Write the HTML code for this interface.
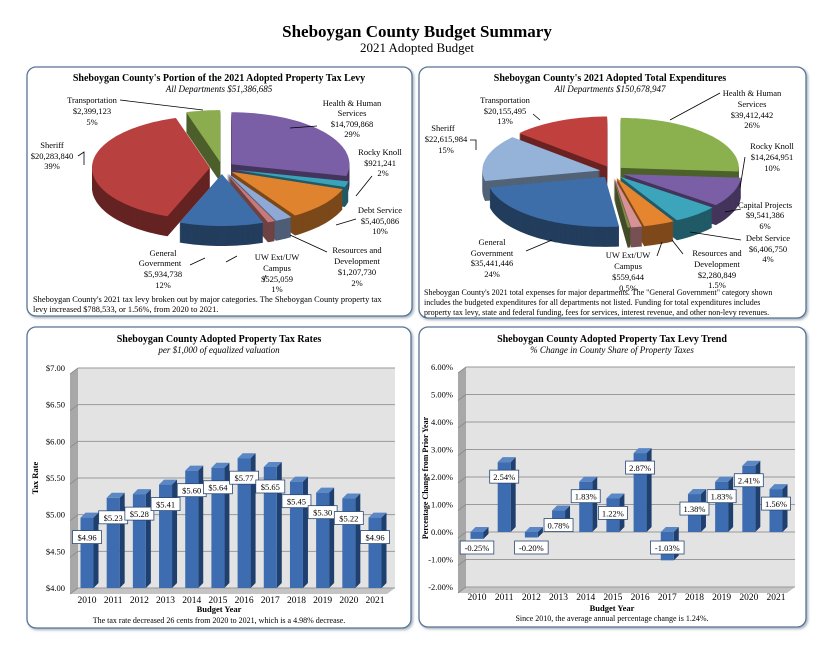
<!DOCTYPE html>
<html><head><meta charset="utf-8">
<style>
body{margin:0;background:#fff;width:835px;height:649px;overflow:hidden;font-family:"Liberation Serif",serif;}
svg{display:block}
</style></head>
<body>
<svg id="root" width="835" height="649" viewBox="0 0 835 649" xmlns="http://www.w3.org/2000/svg" font-family="Liberation Serif, serif">
<defs>
<filter id="sh" x="-5%" y="-5%" width="110%" height="110%"><feDropShadow dx="1.5" dy="1.5" stdDeviation="1.2" flood-color="#6b7f96" flood-opacity="0.6"/></filter>
</defs>
<text x="417" y="37" text-anchor="middle" font-size="17" font-weight="bold">Sheboygan County Budget Summary</text>
<text x="417" y="52" text-anchor="middle" font-size="13">2021 Adopted Budget</text>

<rect x="27" y="67" width="385" height="249" rx="9" fill="#fff" stroke="#5a7592" stroke-width="1.3" filter="url(#sh)"/>
<rect x="419" y="67" width="387" height="251" rx="9" fill="#fff" stroke="#5a7592" stroke-width="1.3" filter="url(#sh)"/>
<rect x="27" y="327" width="384" height="301" rx="9" fill="#fff" stroke="#5a7592" stroke-width="1.3" filter="url(#sh)"/>
<rect x="419" y="327" width="387" height="300" rx="9" fill="#fff" stroke="#5a7592" stroke-width="1.3" filter="url(#sh)"/>

<g font-size="9.5">
<text x="219" y="81" text-anchor="middle" font-weight="bold" font-size="10">Sheboygan County's Portion of the 2021 Adopted Property Tax Levy</text>
<text x="219" y="92" text-anchor="middle" font-style="italic" font-size="9">All Departments $51,386,685</text>
<text x="610" y="81" text-anchor="middle" font-weight="bold" font-size="10">Sheboygan County's 2021 Adopted Total Expenditures</text>
<text x="610" y="92" text-anchor="middle" font-style="italic" font-size="9">All Departments $150,678,947</text>
<text x="219" y="342" text-anchor="middle" font-weight="bold" font-size="10">Sheboygan County Adopted Property Tax Rates</text>
<text x="219" y="353" text-anchor="middle" font-style="italic" font-size="9">per $1,000 of equalized valuation</text>
<text x="612" y="342" text-anchor="middle" font-weight="bold" font-size="10">Sheboygan County Adopted Property Tax Levy Trend</text>
<text x="612" y="353" text-anchor="middle" font-style="italic" font-size="9">% Change in County Share of Property Taxes</text>
</g>

<g id="pie1"></g><g id="pie2"></g><g id="bar1"></g><g id="bar2"></g>

<g font-size="8.5">
<text x="92" y="103" text-anchor="middle">Transportation</text><text x="92" y="114" text-anchor="middle">$2,399,123</text><text x="92" y="125" text-anchor="middle">5%</text>
<text x="52" y="148" text-anchor="middle">Sheriff</text><text x="52" y="159" text-anchor="middle">$20,283,840</text><text x="52" y="169" text-anchor="middle">39%</text>
<text x="352" y="106" text-anchor="middle">Health &amp; Human</text><text x="352" y="116" text-anchor="middle">Services</text><text x="352" y="127" text-anchor="middle">$14,709,868</text><text x="352" y="137" text-anchor="middle">29%</text>
<text x="380" y="155" text-anchor="middle">Rocky Knoll</text><text x="380" y="166" text-anchor="middle">$921,241</text><text x="383" y="176" text-anchor="middle">2%</text>
<text x="380" y="213" text-anchor="middle">Debt Service</text><text x="380" y="224" text-anchor="middle">$5,405,086</text><text x="380" y="234" text-anchor="middle">10%</text>
<text x="357" y="253" text-anchor="middle">Resources and</text><text x="357" y="264" text-anchor="middle">Development</text><text x="357" y="275" text-anchor="middle">$1,207,730</text><text x="357" y="286" text-anchor="middle">2%</text>
<text x="277" y="260" text-anchor="middle">UW Ext/UW</text><text x="277" y="271" text-anchor="middle">Campus</text><text x="277" y="282" text-anchor="middle">$525,059</text><text x="277" y="292" text-anchor="middle">1%</text>
<text x="163" y="256" text-anchor="middle">General</text><text x="160" y="266" text-anchor="middle">Government</text><text x="163" y="277" text-anchor="middle">$5,934,738</text><text x="163" y="288" text-anchor="middle">12%</text>
<path d="M120 100 L203 110 M78 156 L84 152 L84 165 M317 126 L290 128 M372 176 L356 196 M356 219 L336 225 M327 252 L290 235 M226 262 L237 256 M264 280 L266 275 M190 265 L205 258" stroke="#000" stroke-width="0.8" fill="none"/>
</g>
<g font-size="8.4"><text x="33" y="302">Sheboygan County's 2021  tax levy broken out by major categories.  The Sheboygan County property tax</text><text x="33" y="312">levy increased $788,533, or 1.56%, from 2020 to 2021.</text></g>

<g font-size="8.5">
<text x="505" y="103" text-anchor="middle">Transportation</text><text x="505" y="114" text-anchor="middle">$20,155,495</text><text x="505" y="124" text-anchor="middle">13%</text>
<text x="443" y="131" text-anchor="middle">Sheriff</text><text x="446" y="142" text-anchor="middle">$22,615,984</text><text x="446" y="153" text-anchor="middle">15%</text>
<text x="752" y="96" text-anchor="middle">Health &amp; Human</text><text x="752" y="107" text-anchor="middle">Services</text><text x="752" y="118" text-anchor="middle">$39,412,442</text><text x="752" y="128" text-anchor="middle">26%</text>
<text x="772" y="149" text-anchor="middle">Rocky Knoll</text><text x="772" y="160" text-anchor="middle">$14,264,951</text><text x="772" y="171" text-anchor="middle">10%</text>
<text x="765" y="208" text-anchor="middle">Capital Projects</text><text x="765" y="218" text-anchor="middle">$9,541,386</text><text x="765" y="229" text-anchor="middle">6%</text>
<text x="768" y="241" text-anchor="middle">Debt Service</text><text x="768" y="252" text-anchor="middle">$6,406,750</text><text x="768" y="262" text-anchor="middle">4%</text>
<text x="717" y="256" text-anchor="middle">Resources and</text><text x="717" y="267" text-anchor="middle">Development</text><text x="717" y="278" text-anchor="middle">$2,280,849</text><text x="717" y="288" text-anchor="middle">1.5%</text>
<text x="628" y="258" text-anchor="middle">UW Ext/UW</text><text x="628" y="269" text-anchor="middle">Campus</text><text x="628" y="280" text-anchor="middle">$559,644</text><text x="628" y="291" text-anchor="middle">0.5%</text>
<text x="492" y="245" text-anchor="middle">General</text><text x="492" y="256" text-anchor="middle">Government</text><text x="492" y="266" text-anchor="middle">$35,441,446</text><text x="492" y="277" text-anchor="middle">24%</text>
<path d="M533 114 L540 120 M470 140 L476 140 L476 150 M720 93 L670 120 M745 157 L740 188 M741 209 L725 212 M741 240 L690 232 M683 254 L672 240 M657 256 L662 242 M526 251 L552 240" stroke="#000" stroke-width="0.8" fill="none"/>
</g>
<g font-size="8"><text x="424" y="295">Sheboygan County's 2021 total expenses for major departments.  The "General Government" category shown</text><text x="424" y="305">includes the budgeted expenditures for all departments not listed.  Funding for total expenditures includes</text><text x="424" y="315">property tax levy, state and federal funding, fees for services, interest revenue, and other non-levy revenues.</text></g>

<text x="219" y="623" text-anchor="middle" font-size="8">The tax rate decreased 26 cents from 2020 to 2021, which is a 4.98% decrease.</text>
<text x="612" y="621" text-anchor="middle" font-size="8">Since 2010, the average annual percentage change is 1.24%.</text>
</svg>
<script>
const NS='http://www.w3.org/2000/svg';
function mk(p,tag,attrs){const e=document.createElementNS(NS,tag);for(const k in attrs)e.setAttribute(k,attrs[k]);p.appendChild(e);return e;}

// Pie data
const levyNames=['Health & Human Services','Rocky Knoll','Debt Service','Resources and Development','UW Ext/UW Campus','General Government','Sheriff','Transportation'];
const levyValues=[14709868,921241,5405086,1207730,525059,5934738,20283840,2399123];
const levyColors=['#7a5fa6','#3aa3b9','#e0832f','#8fa9d6','#c9797a','#3e6ea9','#b8403e','#8bac4f'];
const expNames=['Health & Human Services','Rocky Knoll','Capital Projects','Debt Service','Resources and Development','UW Ext/UW Campus','General Government','Sheriff','Transportation'];
const expValues=[39412442,14264951,9541386,6406750,2280849,559644,35441446,22615984,20155495];
const expColors=['#8bb14f','#7b5fa6','#3ca4bb','#e5852f','#d79295','#7a8c46','#3e6ea9','#95b3d9','#c0403d'];

function shade(hex,f){const n=parseInt(hex.slice(1),16);const r=(n>>16)&255,g=(n>>8)&255,b=n&255;return 'rgb('+Math.round(r*f)+','+Math.round(g*f)+','+Math.round(b*f)+')';}
function drawPie(g,name,cx,cy,rx,ry,depth,explode,vals,cols){
  const tot=vals.reduce((a,b)=>a+b,0);let a=0;const sl=[];
  vals.forEach((v,i)=>{const a0=a;a+=v/tot*2*Math.PI;sl.push({i,a0,a1:a,mid:(a0+a)/2});});
  sl.sort((p,q)=>Math.cos(q.mid)-Math.cos(p.mid));
  sl.forEach(s=>{
    const ox=explode*Math.sin(s.mid),oy=-explode*0.5*Math.cos(s.mid);
    const pts=[[cx+ox,cy+oy]];const n=Math.max(2,Math.ceil((s.a1-s.a0)*30));
    for(let k=0;k<=n;k++){const t=s.a0+(s.a1-s.a0)*k/n;pts.push([cx+ox+rx*Math.sin(t),cy+oy-ry*Math.cos(t)]);}
    const d=dy=>'M'+pts.map(p=>p[0].toFixed(1)+' '+(p[1]+dy).toFixed(1)).join(' L')+'Z';
    const sg=mk(g,'g',{});
    
    
    for(let dy=depth;dy>0;dy-=1){mk(sg,'path',{d:d(dy),fill:shade(cols[s.i],0.55)});}
    mk(sg,'path',{d:d(0),fill:cols[s.i]});
  });
}
drawPie(document.getElementById('pie1'),'levy-pie',222,168,118,52,20,12,levyValues,levyColors);
drawPie(document.getElementById('pie2'),'expenditures-pie',612,172,118,50,20,12,expValues,expColors);

// Bar chart data
const years=['2010','2011','2012','2013','2014','2015','2016','2017','2018','2019','2020','2021'];
const taxRates=[4.96,5.23,5.28,5.41,5.60,5.64,5.77,5.65,5.45,5.30,5.22,4.96];
const rateTicks=[4.0,4.5,5.0,5.5,6.0,6.5,7.0];
const levyChange=[-0.25,2.54,-0.20,0.78,1.83,1.22,2.87,-1.03,1.38,1.83,2.41,1.56];
const changeTicks=[-2,-1,0,1,2,3,4,5,6];

function barChart(g,name,opt,cats,vals,ticks,fmtTick,fmtVal,labelPos){
  const {x0,x1,ymin,ymax,py0,py1,b0,bw}=opt;
  const y=v=>py1-(v-ymin)/(ymax-ymin)*(py1-py0);
  const x=i=>opt.c0+i*(opt.cN-opt.c0)/(cats.length-1);
  mk(g,'rect',{x:x0,y:py0,width:x1-x0,height:py1-py0,fill:'#e3e3e3'});
  mk(g,'polygon',{points:`${x0-8},${py0+6} ${x0},${py0} ${x0},${py1} ${x0-8},${py1+6}`,fill:'#a8a8a8'});
  mk(g,'polygon',{points:`${x0-8},${py1+6} ${x0},${py1} ${x1},${py1} ${x1-8},${py1+6}`,fill:'#c4c4c4'});
  ticks.forEach(t=>{
    mk(g,'line',{x1:x0,y1:y(t),x2:x1,y2:y(t),stroke:'#9a9a9a','stroke-width':1});
    mk(g,'line',{x1:x0-8,y1:y(t)+6,x2:x0,y2:y(t),stroke:'#8a8a8a','stroke-width':0.8});
    const tx=mk(g,'text',{x:x0-13,y:y(t)+3,'text-anchor':'end','font-size':8.5});
    tx.textContent=fmtTick(t);
    
    
  });
  const dx=5,dyy=5;
  cats.forEach((c,i)=>{
    const v=vals[i];const cx=x(i);const top=y(Math.max(v,b0)),bot=y(Math.min(v,b0));
    const L=cx-bw/2,R=cx+bw/2;
    const bg=mk(g,'g',{});
    
    
    mk(bg,'polygon',{points:`${R},${top} ${R+dx},${top-dyy} ${R+dx},${bot-dyy} ${R},${bot}`,fill:'#1f3f6e'});
    mk(bg,'polygon',{points:`${L},${top} ${L+dx},${top-dyy} ${R+dx},${top-dyy} ${R},${top}`,fill:'#5b88c4'});
    mk(bg,'rect',{x:L,y:top,width:bw,height:bot-top,fill:'#3d6db0'});
    const ly=labelPos(v,y);const s=fmtVal(v);const w=s.length*4.6+6;
    const lb=mk(g,'g',{});
    
    
    mk(lb,'rect',{x:cx-w/2,y:ly-7,width:w,height:13,fill:'#fff',stroke:'#2b4a75','stroke-width':0.8});
    const t=mk(lb,'text',{x:cx,y:ly+3,'text-anchor':'middle','font-size':8.5});t.textContent=s;
    const xl=mk(g,'text',{x:cx,y:opt.yl,'text-anchor':'middle','font-size':9.5});xl.textContent=c;
    
    
  });
}
const g1=document.getElementById('bar1');
barChart(g1,'tax-rate',{x0:78,x1:395,ymin:4,ymax:7,py0:368,py1:588,b0:4,bw:13,c0:87,cN:375,yl:603},years,taxRates,rateTicks,
  t=>'$'+t.toFixed(2),v=>'$'+v.toFixed(2),(v,y)=>y(v)+20);
const g2=document.getElementById('bar2');
barChart(g2,'levy-trend',{x0:466,x1:795,ymin:-2,ymax:6,py0:367,py1:587,b0:0,bw:13,c0:477,cN:776,yl:600},years,levyChange,changeTicks,
  t=>t.toFixed(2)+'%',v=>v.toFixed(2)+'%',(v,y)=>v>=0?y(v)+15:y(0)+16);

const root=document.getElementById('root');
function txt(attrs,s,name){const t=mk(root,'text',attrs);t.textContent=s;

}
txt({x:219,y:612,'text-anchor':'middle','font-size':8.5,'font-weight':'bold'},'Budget Year','tax-rate-x-title');
txt({x:612,y:611,'text-anchor':'middle','font-size':8.5,'font-weight':'bold'},'Budget Year','levy-trend-x-title');
txt({x:38,y:478,'text-anchor':'middle','font-size':8.5,'font-weight':'bold',transform:'rotate(-90 38 478)'},'Tax Rate','tax-rate-y-title');
txt({x:428,y:478,'text-anchor':'middle','font-size':8,'font-weight':'bold',transform:'rotate(-90 428 478)'},'Percentage Change from Prior Year','levy-trend-y-title');
</script>
</body></html>
